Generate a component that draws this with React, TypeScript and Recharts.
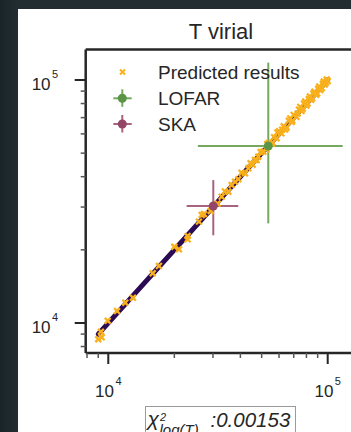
import React from "react";
import { ComposedChart, Scatter, XAxis, YAxis, ErrorBar, ReferenceLine } from "recharts";

const FONT = "'Liberation Sans', Arial, sans-serif";
const INK = "#262626";

const X_DOMAIN = [7890, 127700];
const Y_DOMAIN = [7524, 133500];
const majorTicks = [10000, 100000];
const minorTicks = [8000, 9000, 20000, 30000, 40000, 50000, 60000, 70000, 80000, 90000];
const allTicks = [...minorTicks, ...majorTicks].sort((a, b) => a - b);

// true values (x = y line)
const trueT = [9000, 100000];

// predicted results
const predX = [
  9000, 9330, 9260, 9940, 10960, 11950, 12960, 15940, 17020, 20000, 21000, 23000, 23000,
  25900, 26660, 27300, 29290, 31500, 32880, 34000, 35240, 36500, 37800, 39130, 40500, 41980,
  43450, 44500, 45500, 46630, 47500, 48270, 49500, 50870, 52500, 53000, 54000, 55500, 56000,
  57000, 58500, 59000, 60000, 61500, 62000, 63000, 64000, 65000, 66500, 67500, 68500, 69000,
  70000, 72000, 73000, 74000, 75000, 76000, 77000, 78000, 79000, 80000, 81000, 82000, 83000,
  84000, 85000, 86000, 87000, 88500, 89500, 90500, 91500, 92500, 94000, 95000, 96000, 97000,
  98000, 99000, 100000,
];
const predY = [
  8570, 8730, 9200, 10210, 11200, 12120, 12700, 16020, 17170, 20600, 20100, 22800, 22100,
  26120, 27820, 28090, 28900, 31000, 33100, 34800, 34700, 36980, 38150, 39030, 41500, 41300,
  43300, 45500, 44800, 46870, 46800, 48350, 50500, 50700, 51800, 54500, 55000, 54600, 55200,
  58200, 57600, 60800, 61500, 60300, 62500, 64500, 62600, 63800, 68000, 69500, 67200, 68000,
  71800, 70500, 72800, 75500, 77500, 74600, 76200, 80000, 81500, 78500, 80000, 83500, 85500,
  82800, 84000, 88000, 89500, 87000, 88000, 92000, 94000, 91000, 92500, 96500, 98500, 95800,
  97500, 100500, 99000,
];

// observations: value, [low err, high err]
const lofarT = { x: 53600, y: 53500, ex: [28000, 63400], ey: [27800, 64400] };
const skaT = { x: 30100, y: 30300, ex: [7350, 9030], ey: [7340, 8430] };

const COLORS = {
  pred: "#f8b01c",
  truth: "#2c0b55",
  lofarLine: "#76a95e",
  lofarDot: "#5a9546",
  skaLine: "#a8637f",
  skaDot: "#944666",
};

const truthData = trueT.map((t) => ({ x: t, y: t }));
const predData = predX.map((x, i) => ({ x, y: predY[i] }));

const sup = (v: number) => String(Math.round(Math.log10(v)));

function XTick(props: any) {
  const { x, y, payload } = props;
  const major = majorTicks.includes(payload.value);
  return (
    <g>
      <line x1={x} x2={x} y1={y} y2={y + (major ? 11 : 5)} stroke={major ? INK : "#555"} strokeWidth={major ? 2 : 1.5} />
      {major && (
        <text x={x} y={y + 44} textAnchor="middle" fontFamily={FONT} fontSize={17} fill={INK}>
          <tspan>10</tspan>
          <tspan dy={-12} dx={1.5} fontSize={11}>{sup(payload.value)}</tspan>
        </text>
      )}
    </g>
  );
}

function YTick(props: any) {
  const { x, y, payload } = props;
  const major = majorTicks.includes(payload.value);
  return (
    <g>
      <line x1={x - (major ? 11 : 5)} x2={x} y1={y} y2={y} stroke={major ? INK : "#555"} strokeWidth={major ? 2 : 1.5} />
      {major && (
        <text x={x - 27.5} y={y + 10.5} textAnchor="end" fontFamily={FONT} fontSize={17} fill={INK}>
          <tspan>10</tspan>
          <tspan dy={-12} dx={1.5} fontSize={11}>{sup(payload.value)}</tspan>
        </text>
      )}
    </g>
  );
}

const Cross = (props: any) => {
  const { cx, cy } = props;
  const s = 2.9;
  return (
    <path
      d={`M${cx - s},${cy - s}L${cx + s},${cy + s}M${cx - s},${cy + s}L${cx + s},${cy - s}`}
      stroke={COLORS.pred}
      strokeWidth={2.3}
    />
  );
};

const Dot = (color: string) => (props: any) => <circle cx={props.cx} cy={props.cy} r={4.5} fill={color} />;

function LegendMark({ y, line, dot }: { y: number; line: string; dot: string }) {
  return (
    <g>
      <line x1={113.3} x2={131.7} y1={y} y2={y} stroke={line} strokeWidth={2} />
      <line x1={122.3} x2={122.3} y1={y - 9} y2={y + 8.5} stroke={line} strokeWidth={2} />
      <circle cx={122.3} cy={y} r={4.5} fill={dot} />
    </g>
  );
}

export default function App() {
  return (
    <div
      style={{
        position: "absolute",
        left: 0,
        top: 0,
        width: 351,
        height: 432,
        overflow: "hidden",
        background: "linear-gradient(90deg, #1a2428 0%, #222d32 5%, #222d32 100%)",
      }}
    >
      <div style={{ position: "absolute", left: 18, top: 9, right: 0, bottom: 0, background: "#fff" }} />
      <div style={{ position: "absolute", left: 0, top: 0 }}>
        <ComposedChart width={351} height={432} margin={{ top: 49.5, right: 0, left: 0, bottom: 0 }}>
          <XAxis
            type="number"
            dataKey="x"
            scale="log"
            domain={X_DOMAIN}
            allowDataOverflow
            ticks={allTicks}
            interval={0}
            tick={<XTick />}
            tickLine={false}
            tickSize={0}
            tickMargin={0}
            height={79}
            axisLine={{ stroke: INK, strokeWidth: 2.5 }}
          />
          <YAxis
            type="number"
            dataKey="y"
            scale="log"
            domain={Y_DOMAIN}
            allowDataOverflow
            ticks={allTicks}
            interval={0}
            tick={<YTick />}
            tickLine={false}
            tickSize={0}
            tickMargin={0}
            width={85.7}
            axisLine={{ stroke: INK, strokeWidth: 2.5 }}
          />
          <ReferenceLine y={Y_DOMAIN[1]} stroke={INK} strokeWidth={2.5} />
          <Scatter
            data={truthData}
            line={{ stroke: COLORS.truth, strokeWidth: 5, strokeLinecap: "round" }}
            lineType="joint"
            shape={() => <g />}
            isAnimationActive={false}
          />
          <Scatter data={predData} shape={<Cross />} isAnimationActive={false} />
          <Scatter data={[skaT]} shape={Dot(COLORS.skaDot)} isAnimationActive={false}>
            <ErrorBar dataKey="ex" direction="x" width={0} stroke={COLORS.skaLine} strokeWidth={2} isAnimationActive={false} />
            <ErrorBar dataKey="ey" direction="y" width={0} stroke={COLORS.skaLine} strokeWidth={2} isAnimationActive={false} />
          </Scatter>
          <Scatter data={[lofarT]} shape={Dot(COLORS.lofarDot)} isAnimationActive={false}>
            <ErrorBar dataKey="ex" direction="x" width={0} stroke={COLORS.lofarLine} strokeWidth={2} isAnimationActive={false} />
            <ErrorBar dataKey="ey" direction="y" width={0} stroke={COLORS.lofarLine} strokeWidth={2} isAnimationActive={false} />
          </Scatter>
        </ComposedChart>
      </div>
      <svg width={351} height={432} style={{ position: "absolute", left: 0, top: 0, pointerEvents: "none" }}>
        <text x={221} y={38.5} textAnchor="middle" fontFamily={FONT} fontSize={22} fill={INK}>
          T virial
        </text>
        <g fontFamily={FONT} fontSize={19} fill={INK}>
          <path d="M120,69.5L125,74.5M120,74.5L125,69.5" stroke={COLORS.pred} strokeWidth={2} />
          <text x={158} y={79}>Predicted results</text>
          <LegendMark y={98.3} line={COLORS.lofarLine} dot={COLORS.lofarDot} />
          <text x={158} y={105}>LOFAR</text>
          <LegendMark y={124} line={COLORS.skaLine} dot={COLORS.skaDot} />
          <text x={158} y={130.7}>SKA</text>
        </g>
        <rect x={145.5} y={406.5} width={150} height={40} fill="#fff" stroke="#9a9a9a" strokeWidth={1} />
        <g fontFamily={FONT} fontStyle="italic" fill={INK}>
          <text x={147.5} y={425.5} fontSize={21}>χ</text>
          <text x={160} y={420.7} fontSize={11}>2</text>
          <text x={159.5} y={435} fontSize={15}>log(T)</text>
          <text x={210.5} y={426.7} fontSize={20.5}>:0.00153</text>
        </g>
      </svg>
    </div>
  );
}
